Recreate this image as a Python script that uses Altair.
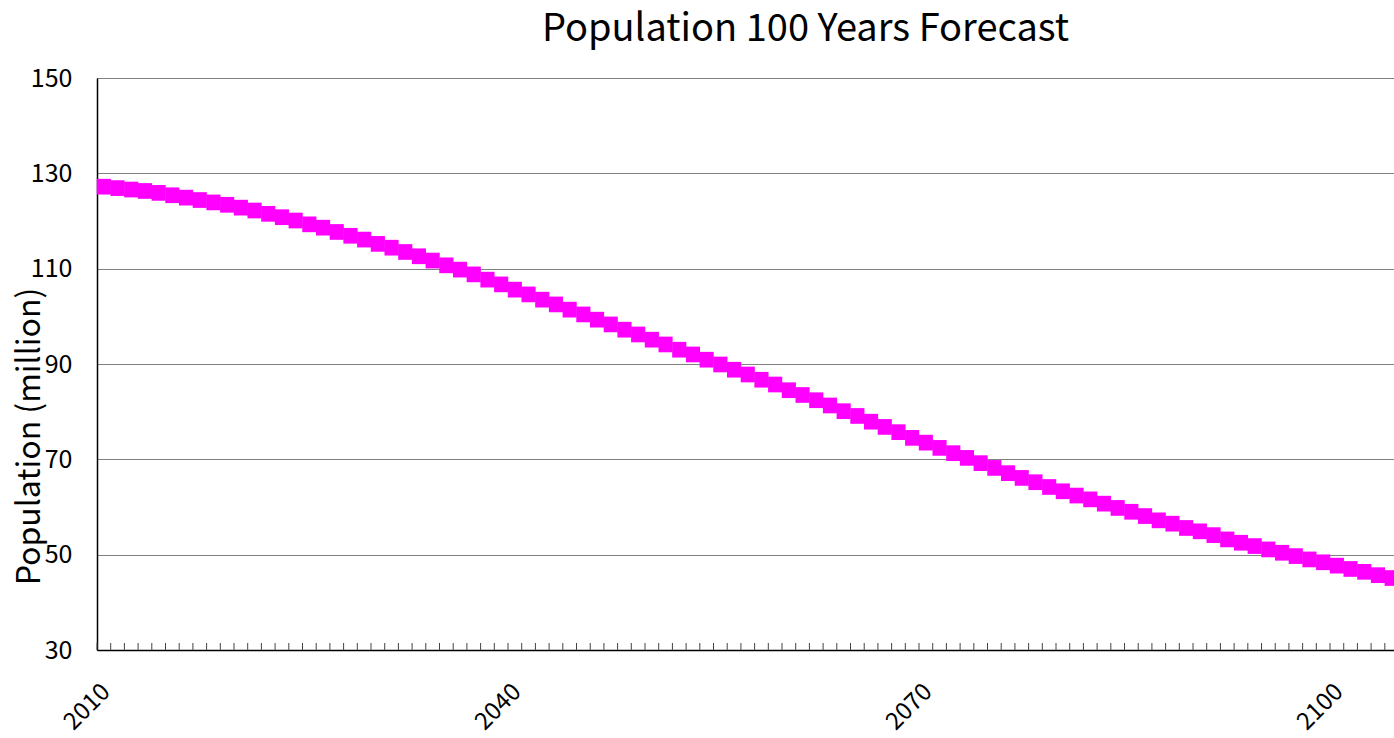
import altair as alt
import pandas as pd

FONT = "Noto Sans CJK JP"

# Projected population (million), one value per year from 2010
years = list(range(2010, 2105))
population = [
    127.2, 126.9, 126.6, 126.3, 125.9, 125.4, 124.9, 124.4, 123.9, 123.4,
    122.8, 122.2, 121.5, 120.8, 120.1, 119.3, 118.6, 117.7, 116.9, 116.1,
    115.2, 114.4, 113.5, 112.6, 111.7, 110.7, 109.8, 108.8, 107.7, 106.7,
    105.6, 104.6, 103.5, 102.5, 101.4, 100.4, 99.3, 98.3, 97.2, 96.2,
    95.1, 94.1, 93.0, 92.0, 90.9, 89.9, 88.8, 87.8, 86.7, 85.7,
    84.5, 83.5, 82.4, 81.3, 80.1, 79.1, 77.9, 76.8, 75.7, 74.5,
    73.5, 72.4, 71.3, 70.3, 69.2, 68.2, 67.1, 66.1, 65.2, 64.2,
    63.3, 62.4, 61.6, 60.7, 59.8, 59.0, 58.1, 57.2, 56.5, 55.6,
    54.9, 54.1, 53.2, 52.5, 51.8, 51.1, 50.4, 49.7, 49.0, 48.4,
    47.7, 47.0, 46.4, 45.7, 45.1,
]
label_years = [2010, 2040, 2070, 2100]
y_ticks = [30, 50, 70, 90, 110, 130, 150]
# category boundaries: one small tick between consecutive years
category_edges = [2009.5 + k for k in range(96)]

df = pd.DataFrame({"year": years, "population": population})
edges_df = pd.DataFrame({"year": category_edges})

x_scale = alt.Scale(domain=[2009.5, 2104.17], nice=False, zero=False)
y_scale = alt.Scale(domain=[30, 150], nice=False, zero=False)

x_axis = alt.Axis(
    values=label_years,
    format="d",
    labelAngle=-45,
    labelAlign="right",
    labelBaseline="middle",
    labelFont=FONT,
    labelFontSize=24,
    labelColor="black",
    labelPadding=38,
    labelOffset=2,
    labelOverlap=False,
    labelBound=False,
    labelFlush=False,
    ticks=False,
    grid=False,
    domainColor="black",
    domainWidth=1.5,
    title=None,
)

# slightly tall rectangle marker
RECT = "M-1,-1.11L1,-1.11L1,1.11L-1,1.11Z"

points = alt.Chart(df).mark_point(
    shape=RECT, filled=True, size=200, color="#FF00FF", opacity=1, strokeWidth=0
).encode(
    x=alt.X("year:Q", scale=x_scale, axis=x_axis),
    y=alt.Y(
        "population:Q",
        scale=y_scale,
        axis=alt.Axis(
            values=y_ticks,
            labelFont=FONT,
            labelFontSize=25,
            labelColor="black",
            labelPadding=25,
            ticks=False,
            grid=True,
            gridColor="#808080",
            gridWidth=1,
            domainColor="black",
            domainWidth=1.5,
            title="Population (million)",
            titleFont=FONT,
            titleFontSize=32,
            titleFontWeight="normal",
            titleColor="black",
            titleBaseline="middle",
            titleAngle=270,
            titleX=-68,
            titleY=358,
        ),
    ),
)

minor_ticks = alt.Chart(edges_df).mark_rule(color="#444444", strokeWidth=1).encode(
    x=alt.X("year:Q", scale=x_scale, axis=x_axis),
    y=alt.value(565),
    y2=alt.value(572),
)

chart = alt.layer(points, minor_ticks).properties(
    width=1297,
    height=572,
    autosize="none",
    padding={"left": 97, "top": 78, "right": 0, "bottom": 88},
    title=alt.TitleParams(
        "Population 100 Years Forecast",
        font=FONT,
        fontSize=38,
        fontWeight="normal",
        color="black",
        anchor="middle",
        dx=60,
        dy=51,
        baseline="bottom",
        offset=30,
    ),
).configure_view(stroke=None).configure(background="white")

chart.save("out.html", embed_options={"renderer": "svg", "actions": False})
